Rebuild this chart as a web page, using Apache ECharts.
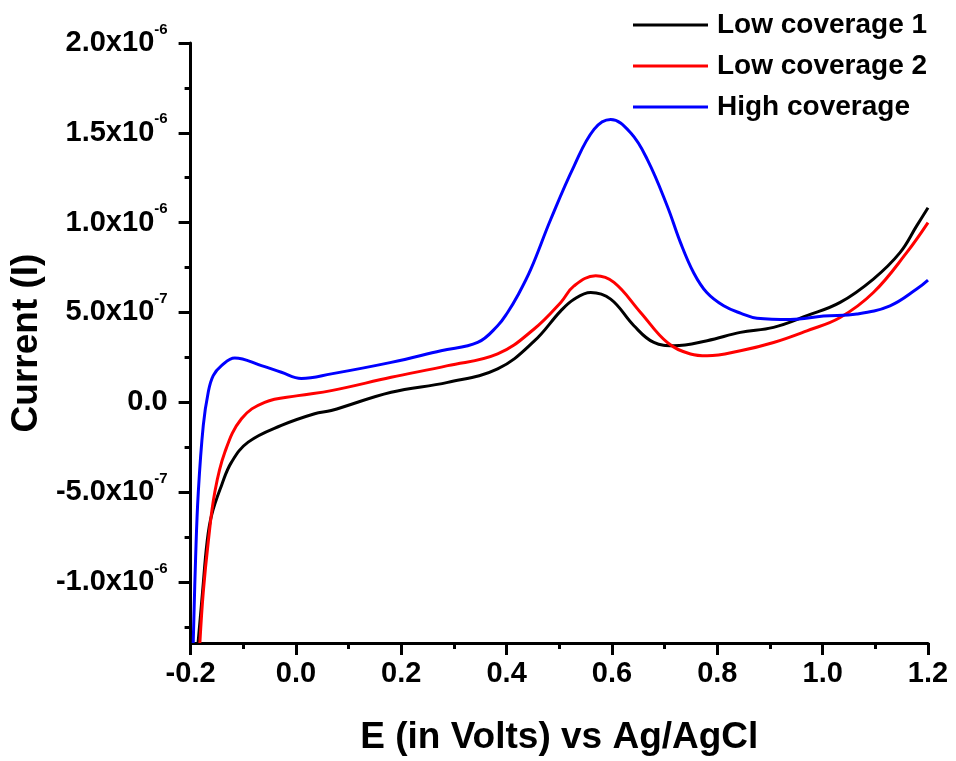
<!DOCTYPE html>
<html>
<head>
<meta charset="utf-8">
<script src="https://cdn.jsdelivr.net/npm/echarts@6/dist/echarts.min.js"></script>
<style>
html,body{margin:0;padding:0;background:#fff;}
#chart{width:956px;height:761px;}
</style>
</head>
<body>
<div id="chart"></div>
<script>
// Potential E (V vs Ag/AgCl) and current (in units of 1e-6 A)
var low1E = [-0.1858, -0.1773, -0.1687, -0.1602, -0.1413, -0.1223, -0.0907, -0.0276, 0.0355, 0.0671, 0.1808, 0.2882, 0.3829, 0.4522, 0.5028, 0.528, 0.5596, 0.5975, 0.6417, 0.6795, 0.7174, 0.7807, 0.8438, 0.9068, 0.9701, 1.0332, 1.0963, 1.1468, 1.1785, 1.2];
var low1I = [-1.34, -1.056, -0.778, -0.629, -0.463, -0.333, -0.222, -0.129, -0.064, -0.046, 0.056, 0.111, 0.186, 0.34, 0.509, 0.574, 0.611, 0.574, 0.426, 0.333, 0.315, 0.343, 0.389, 0.417, 0.482, 0.556, 0.686, 0.833, 0.982, 1.083];

var low2E = [-0.1824, -0.1759, -0.1665, -0.154, -0.135, -0.1034, -0.0593, 0.004, 0.0671, 0.1808, 0.2882, 0.3829, 0.4522, 0.5028, 0.528, 0.5691, 0.6038, 0.6543, 0.7049, 0.7491, 0.7807, 0.8438, 0.9068, 0.9701, 1.0332, 1.0963, 1.1595, 1.2];
var low2I = [-1.34, -1.056, -0.778, -0.5, -0.278, -0.092, 0.0, 0.037, 0.065, 0.139, 0.204, 0.269, 0.408, 0.556, 0.648, 0.704, 0.667, 0.5, 0.333, 0.269, 0.259, 0.287, 0.333, 0.398, 0.472, 0.611, 0.833, 1.0];

var highE = [-0.195, -0.1905, -0.1854, -0.1759, -0.1665, -0.157, -0.1413, -0.1161, -0.0655, -0.0276, 0.0103, 0.0671, 0.1808, 0.2755, 0.345, 0.3829, 0.4018, 0.4208, 0.446, 0.4838, 0.528, 0.5659, 0.5975, 0.6354, 0.667, 0.7049, 0.7301, 0.7553, 0.78, 0.8121, 0.845, 0.8754, 0.9385, 1.0016, 1.0648, 1.1279, 1.1785, 1.2];
var highI = [-1.34, -0.868, -0.502, -0.129, 0.056, 0.148, 0.204, 0.247, 0.204, 0.167, 0.133, 0.158, 0.222, 0.287, 0.333, 0.426, 0.5, 0.593, 0.741, 1.019, 1.315, 1.519, 1.574, 1.5, 1.352, 1.093, 0.889, 0.72, 0.611, 0.537, 0.495, 0.468, 0.461, 0.48, 0.491, 0.537, 0.63, 0.68];

var seriesNames = ['Low coverage 1', 'Low coverage 2', 'High coverage'];
var seriesColors = ['#000000', '#ff0000', '#0000ff'];

var yTickValues = [-1.0, -0.5, 0.0, 0.5, 1.0, 1.5, 2.0];
var yTickMantissa = ['-1.0', '-5.0', '0.0', '5.0', '1.0', '1.5', '2.0'];
var yTickExponent = ['-6', '-7', '', '-7', '-6', '-6', '-6'];
var yMinorValues = [-1.25, -0.75, -0.25, 0.25, 0.75, 1.25, 1.75];
var yMin = -1.34, yMax = 2.0;
var xMin = -0.2, xMax = 1.2, xInterval = 0.2;

function pairs(e, i) { return e.map(function (v, k) { return [v, i[k]]; }); }

var font = '"Liberation Sans", Arial, sans-serif';
var chart = echarts.init(document.getElementById('chart'), null, {renderer: 'canvas'});

var dataSets = [pairs(low1E, low1I), pairs(low2E, low2I), pairs(highE, highI)];

var option = {
  backgroundColor: '#ffffff',
  animation: false,
  grid: {left: 189, right: 28, top: 43, bottom: 113, containLabel: false},
  legend: {
    orient: 'vertical',
    left: 633,
    top: 10,
    padding: 0,
    itemGap: 11,
    itemWidth: 75,
    itemHeight: 3,
    icon: 'rect',
    data: seriesNames,
    textStyle: {fontFamily: font, fontWeight: 'bold', fontSize: 28, lineHeight: 30, color: '#000', padding: [0, 0, 0, 4]}
  },
  xAxis: {
    type: 'value',
    min: xMin, max: xMax, interval: xInterval,
    name: 'E (in Volts) vs Ag/AgCl',
    nameLocation: 'middle',
    nameGap: 76,
    nameTextStyle: {fontFamily: font, fontWeight: 'bold', fontSize: 37, color: '#000'},
    axisLine: {show: true, onZero: false, lineStyle: {color: '#000', width: 3}},
    axisTick: {show: true, inside: false, length: 12, lineStyle: {color: '#000', width: 3}},
    minorTick: {show: true, splitNumber: 2, length: 6, lineStyle: {color: '#000', width: 3}},
    splitLine: {show: false},
    minorSplitLine: {show: false},
    axisLabel: {
      margin: 16, fontFamily: font, fontWeight: 'bold', fontSize: 29, color: '#000',
      formatter: function (v) { return v.toFixed(1); }
    }
  },
  yAxis: [{
    type: 'value',
    min: yMin, max: yMax,
    position: 'left',
    name: 'Current (I)',
    nameLocation: 'middle',
    nameGap: 133,
    nameRotate: 90,
    nameTextStyle: {fontFamily: font, fontWeight: 'bold', fontSize: 37, color: '#000'},
    axisLine: {show: true, onZero: false, lineStyle: {color: '#000', width: 3}},
    axisTick: {show: true, inside: false, length: 12, customValues: yTickValues, lineStyle: {color: '#000', width: 3}},
    splitLine: {show: false},
    axisLabel: {
      margin: 23,
      customValues: yTickValues,
      fontFamily: font, fontWeight: 'bold', fontSize: 29, color: '#000',
      formatter: function (v) {
        var k = -1;
        for (var j = 0; j < yTickValues.length; j++) { if (Math.abs(yTickValues[j] - v) < 1e-6) k = j; }
        if (k < 0) return '';
        if (yTickExponent[k] === '') return '{b|' + yTickMantissa[k] + '}';
        return '{b|' + yTickMantissa[k] + 'x10}{s|' + yTickExponent[k] + '}';
      },
      rich: {
        b: {fontFamily: font, fontWeight: 'bold', fontSize: 29, color: '#000', lineHeight: 42, verticalAlign: 'middle'},
        s: {fontFamily: font, fontWeight: 'bold', fontSize: 15, color: '#000', lineHeight: 16, verticalAlign: 'top'}
      }
    }
  }, {
    type: 'value',
    min: yMin, max: yMax,
    position: 'left',
    axisLine: {show: false, onZero: false},
    axisTick: {show: true, inside: false, length: 6, customValues: yMinorValues, lineStyle: {color: '#000', width: 3}},
    axisLabel: {show: false},
    splitLine: {show: false}
  }],
  series: dataSets.map(function (d, k) {
    return {
      name: seriesNames[k],
      type: 'line',
      yAxisIndex: 0,
      data: d,
      smooth: 0.4,
      showSymbol: false,
      symbol: 'none',
      clip: true,
      lineStyle: {color: seriesColors[k], width: 3},
      itemStyle: {color: seriesColors[k]},
      z: 2 + k
    };
  })
};
chart.setOption(option);
</script>
</body>
</html>
